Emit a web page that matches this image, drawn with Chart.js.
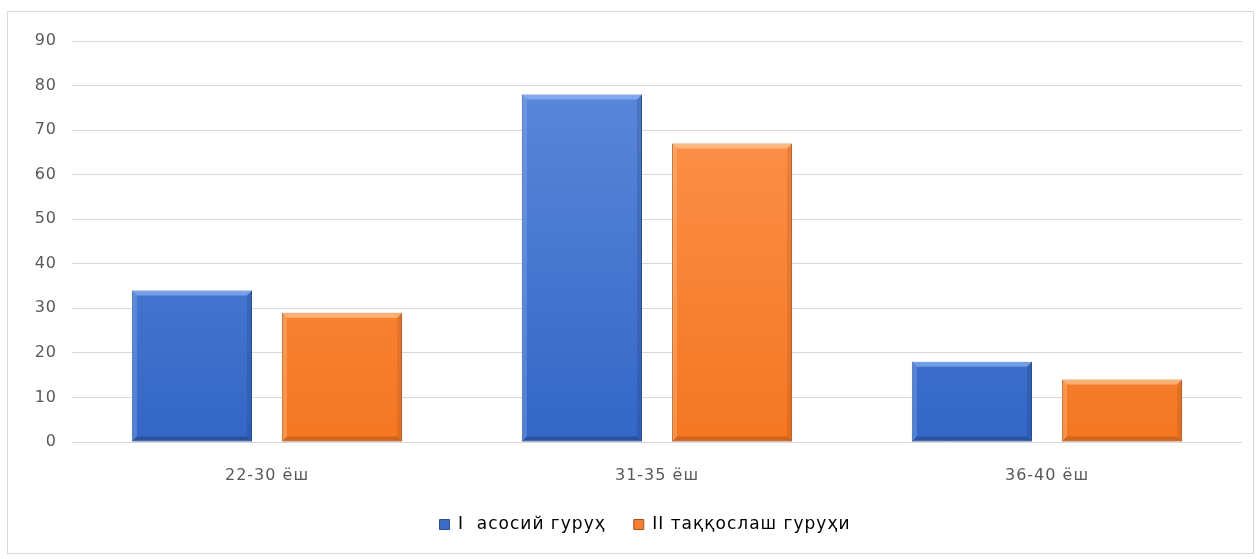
<!DOCTYPE html>
<html>
<head>
<meta charset="utf-8">
<script src="https://cdn.jsdelivr.net/npm/chart.js@4/dist/chart.umd.min.js"></script>
<style>
  body { margin: 0; background: #fff; }
  #frame {
    position: absolute; left: 7px; top: 11px;
    width: 1245px; height: 541px;
    border: 1px solid #d9d9d9; background: #fff;
  }
</style>
</head>
<body>
<div id="frame"><canvas id="chart" width="1245" height="541"></canvas></div>
<script>
// Chart data
const categories = ["22-30 ёш", "31-35 ёш", "36-40 ёш"];
const seriesNames = ["I  асосий гуруҳ", "II таққослаш гуруҳи"];
const mainGroup = [34, 78, 18];
const compareGroup = [29, 67, 14];
const yTicks = [0, 10, 20, 30, 40, 50, 60, 70, 80, 90];

const FONT = "'DejaVu Sans', sans-serif";
const TEXT = "#595959";

// vertical gradient for each bar
function barGradient(top, bottom) {
  return (c) => {
    const chart = c.chart;
    const area = chart.chartArea;
    if (!area) return top;
    const g = chart.ctx.createLinearGradient(0, area.top, 0, area.bottom);
    g.addColorStop(0, top);
    g.addColorStop(1, bottom);
    return g;
  };
}

// wider letter spacing, like the original text; legend sits a bit right of centre
const spacingPlugin = {
  id: "spacing",
  beforeLayout(chart) { chart.ctx.letterSpacing = "1px"; },
  afterLayout(chart) {
    chart.legend.left += 16;
    chart.legend.right += 16;
  },
  beforeDraw(chart) { chart.ctx.letterSpacing = "1px"; },
};

// draws the bevel edges on each bar
const bevelPlugin = {
  id: "bevel",
  afterDatasetsDraw(chart) {
    const ctx = chart.ctx;
    const styles = [
      { light: "rgba(160,195,255,0.55)", dark: "rgba(20,45,100,0.35)" },
      { light: "rgba(255,210,160,0.6)", dark: "rgba(130,55,10,0.3)" },
    ];
    chart.data.datasets.forEach((ds, i) => {
      const meta = chart.getDatasetMeta(i);
      const s = styles[i];
      meta.data.forEach((bar) => {
        const l = bar.x - bar.width / 2, r = bar.x + bar.width / 2;
        const t = bar.y, b = bar.base, d = 5;
        ctx.save();
        // top edge
        ctx.fillStyle = s.light;
        ctx.beginPath();
        ctx.moveTo(l, t); ctx.lineTo(r, t); ctx.lineTo(r - d, t + d); ctx.lineTo(l + d, t + d);
        ctx.closePath(); ctx.fill();
        // bottom edge
        ctx.fillStyle = s.dark;
        ctx.beginPath();
        ctx.moveTo(l, b); ctx.lineTo(r, b); ctx.lineTo(r - d, b - d); ctx.lineTo(l + d, b - d);
        ctx.closePath(); ctx.fill();
        // sides
        ctx.globalAlpha = 0.5;
        ctx.beginPath();
        ctx.moveTo(r, t); ctx.lineTo(r, b); ctx.lineTo(r - d, b - d); ctx.lineTo(r - d, t + d);
        ctx.closePath(); ctx.fill();
        ctx.fillStyle = s.light;
        ctx.beginPath();
        ctx.moveTo(l, t); ctx.lineTo(l, b); ctx.lineTo(l + d, b - d); ctx.lineTo(l + d, t + d);
        ctx.closePath(); ctx.fill();
        ctx.restore();
      });
    });
  },
};

const ctx = document.getElementById("chart").getContext("2d");
const chart = new Chart(ctx, {
  type: "bar",
  data: {
    labels: categories,
    datasets: [
      {
        label: seriesNames[0],
        data: mainGroup,
        backgroundColor: barGradient("#5f8bdb", "#3366c6"),
        borderColor: "#2b4e8e",
        borderWidth: 1,
        borderSkipped: false,
        categoryPercentage: 0.77,
        barPercentage: 0.8,
      },
      {
        label: seriesNames[1],
        data: compareGroup,
        backgroundColor: barGradient("#fd9552", "#f47722"),
        borderColor: "#a9541b",
        borderWidth: 1,
        borderSkipped: false,
        categoryPercentage: 0.77,
        barPercentage: 0.8,
      },
    ],
  },
  options: {
    responsive: false,
    animation: false,
    layout: { padding: { top: 29, left: 8, right: 11, bottom: 10 } },
    plugins: {
      tooltip: { enabled: false },
      legend: {
        position: "bottom",
        labels: {
          color: TEXT,
          font: { family: FONT, size: 17 },
          boxWidth: 10,
          boxHeight: 10,
          padding: 28,
          generateLabels: (c) =>
            c.data.datasets.map((ds, i) => ({
              text: ds.label,
              fillStyle: i === 0 ? "#3a6cc8" : "#f47f30",
              strokeStyle: i === 0 ? "#2b4e8e" : "#a9541b",
              lineWidth: 1,
              datasetIndex: i,
            })),
        },
      },
    },
    scales: {
      x: {
        grid: { display: false },
        border: { display: false },
        ticks: { color: TEXT, font: { family: FONT, size: 16 }, padding: 16 },
        afterFit: (scale) => {
          scale.height = 46;
        },
      },
      y: {
        min: 0,
        max: 90,
        afterBuildTicks: (scale) => {
          scale.ticks = yTicks.map((v) => ({ value: v }));
        },
        afterFit: (scale) => {
          scale.width = 56;
        },
        grid: { color: "#d9d9d9", drawTicks: false },
        border: { display: false },
        ticks: { color: TEXT, font: { family: FONT, size: 16 }, padding: 15 },
      },
    },
  },
  plugins: [spacingPlugin, bevelPlugin],
});
</script>
</body>
</html>
